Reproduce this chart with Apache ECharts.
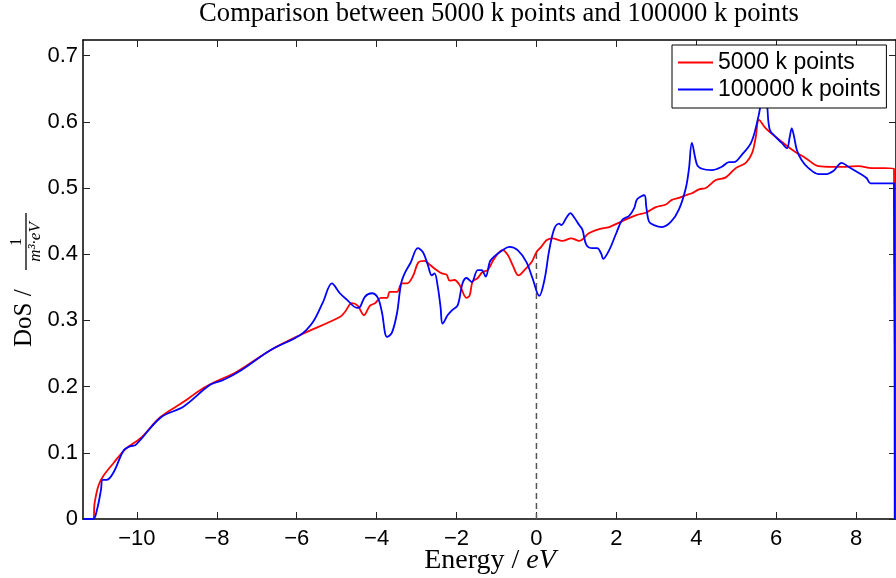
<!DOCTYPE html>
<html><head><meta charset="utf-8">
<script src="https://cdn.jsdelivr.net/npm/echarts@6/dist/echarts.min.js"></script>
<style>html,body{margin:0;padding:0;background:#fff}#c{width:896px;height:578px}</style>
</head><body><div id="c"></div>
<script>
const energyRed = [-11.35,-11.1,-11.06,-10.96,-10.83,-10.58,-10.28,-9.91,-9.41,-8.83,-8.41,-8.01,-7.51,-6.66,-5.91,-4.92,-4.79,-4.62,-4.47,-4.32,-4.17,-4.04,-3.89,-3.74,-3.67,-3.49,-3.37,-3.24,-3.09,-2.95,-2.80,-2.67,-2.50,-2.37,-2.25,-2.17,-2.05,-1.92,-1.75,-1.67,-1.60,-1.47,-1.35,-1.22,-1.05,-0.85,-0.72,-0.60,-0.45,-0.30,-0.12,0,0.12,0.25,0.40,0.65,0.87,1.07,1.32,1.57,1.82,2.15,2.50,2.75,2.99,3.24,3.39,3.57,3.74,3.89,4.07,4.24,4.49,4.74,4.99,5.24,5.40,5.49,5.57,5.74,5.99,6.24,6.49,6.74,7.06,7.39,7.74,8.06,8.39,8.73,8.95,8.97];
const dosRed = [0,0,0.024,0.051,0.066,0.085,0.106,0.122,0.154,0.177,0.195,0.208,0.222,0.255,0.278,0.305,0.313,0.326,0.322,0.308,0.322,0.326,0.334,0.334,0.343,0.343,0.356,0.356,0.367,0.388,0.390,0.384,0.376,0.371,0.369,0.360,0.361,0.353,0.334,0.338,0.358,0.364,0.373,0.376,0.394,0.406,0.399,0.384,0.368,0.376,0.388,0.403,0.411,0.421,0.424,0.420,0.424,0.420,0.432,0.438,0.441,0.450,0.459,0.463,0.471,0.475,0.482,0.485,0.489,0.492,0.498,0.500,0.512,0.516,0.530,0.538,0.553,0.577,0.603,0.590,0.577,0.565,0.554,0.545,0.533,0.532,0.532,0.533,0.530,0.530,0.529,0];
const energyBlue = [-11.35,-11.1,-11.0,-10.9,-10.86,-10.76,-10.58,-10.33,-10.16,-10.03,-9.41,-8.83,-8.16,-7.84,-7.41,-6.66,-5.91,-5.59,-5.34,-5.12,-4.92,-4.74,-4.49,-4.42,-4.29,-4.12,-3.97,-3.87,-3.74,-3.62,-3.49,-3.39,-3.29,-3.15,-2.97,-2.84,-2.72,-2.62,-2.55,-2.47,-2.40,-2.35,-2.22,-2.10,-1.97,-1.85,-1.75,-1.62,-1.47,-1.37,-1.27,-1.17,-1.10,-0.92,-0.67,-0.47,-0.25,-0.10,0.07,0.20,0.32,0.45,0.57,0.62,0.75,0.85,0.95,1.07,1.15,1.25,1.40,1.52,1.62,1.67,1.82,2.00,2.15,2.32,2.45,2.52,2.70,2.75,2.82,2.94,3.14,3.37,3.57,3.74,3.82,3.89,4.02,4.14,4.39,4.64,4.82,4.94,5.14,5.37,5.52,5.62,5.69,5.77,5.84,5.99,6.14,6.27,6.34,6.39,6.44,6.52,6.64,6.81,7.06,7.26,7.44,7.64,7.81,8.06,8.26,8.36,8.56,8.95,8.97];
const dosBlue = [0,0,0.014,0.044,0.059,0.059,0.071,0.104,0.110,0.112,0.153,0.170,0.203,0.210,0.224,0.255,0.278,0.298,0.328,0.356,0.341,0.331,0.319,0.320,0.336,0.341,0.334,0.313,0.275,0.281,0.311,0.355,0.372,0.387,0.409,0.403,0.384,0.368,0.371,0.351,0.320,0.295,0.308,0.316,0.323,0.356,0.364,0.358,0.376,0.376,0.366,0.388,0.394,0.403,0.411,0.406,0.388,0.364,0.337,0.361,0.406,0.439,0.446,0.444,0.455,0.462,0.455,0.444,0.437,0.414,0.409,0.409,0.401,0.393,0.406,0.432,0.452,0.458,0.470,0.483,0.489,0.471,0.449,0.444,0.441,0.449,0.468,0.500,0.530,0.568,0.535,0.529,0.527,0.532,0.539,0.539,0.550,0.568,0.598,0.628,0.660,0.628,0.588,0.577,0.568,0.560,0.577,0.590,0.580,0.557,0.542,0.530,0.521,0.521,0.526,0.538,0.532,0.523,0.515,0.507,0.507,0.507,0];
const fermiEnergy = [0, 0];
const fermiDos = [0, 0.403];
const xTicks = [-10,-8,-6,-4,-2,0,2,4,6,8];
const yTicks = [0,0.1,0.2,0.3,0.4,0.5,0.6,0.7];
const seriesNames = ['5000 k points', '100000 k points'];

const zip = (a, b) => a.map((v, i) => [v, b[i]]);
const chart = echarts.init(document.getElementById('c'), null, {renderer: 'canvas'});
const lineCol = '#000';
const fmtX = v => v < 0 ? '\u2212' + Math.abs(v) : String(v);
const fmtY = v => v === 0 ? '0' : v.toFixed(1);
function xAx(pos, showLabel) {
  return {
    type: 'value', position: pos, min: -11.35, max: 9,
    axisLine: {show: true, onZero: false, lineStyle: {color: lineCol, width: 1.5}},
    axisTick: {show: true, inside: true, length: 7, customValues: xTicks, lineStyle: {color: '#222', width: 1}},
    axisLabel: {show: showLabel, customValues: xTicks, margin: 9, fontSize: 22, fontFamily: 'Liberation Sans', color: '#000', formatter: fmtX},
    splitLine: {show: false}
  };
}
function yAx(pos, showLabel) {
  return {
    type: 'value', position: pos, min: 0, max: 0.7235,
    axisLine: {show: true, onZero: false, lineStyle: {color: lineCol, width: 1.5}},
    axisTick: {show: true, inside: true, length: 7, customValues: yTicks, lineStyle: {color: '#222', width: 1}},
    axisLabel: {show: showLabel, customValues: yTicks, margin: 5, fontSize: 22, fontFamily: 'Liberation Sans', color: '#000', formatter: fmtY},
    splitLine: {show: false}
  };
}
const option = {
  animation: false,
  backgroundColor: '#fff',
  grid: {left: 83, top: 40, width: 815, height: 479, containLabel: false},
  xAxis: [xAx('bottom', true), xAx('top', false)],
  yAxis: [yAx('left', true), yAx('right', false)],
  legend: {
    data: seriesNames, orient: 'vertical', left: 672, top: 45,
    padding: [6, 6, 7, 6], itemGap: 4, itemWidth: 35, itemHeight: 2, icon: 'rect',
    textStyle: {fontSize: 23, fontFamily: 'Liberation Sans', color: '#000', lineHeight: 22},
    borderColor: '#000', borderWidth: 1, backgroundColor: '#fff', borderRadius: 0, z: 10
  },
  series: [
    {name: seriesNames[0], type: 'line', data: zip(energyRed, dosRed), symbol: 'none', smooth: 0.35,
     lineStyle: {color: '#ff0000', width: 1.8}, itemStyle: {color: '#ff0000'}, z: 2},
    {name: seriesNames[1], type: 'line', data: zip(energyBlue, dosBlue), symbol: 'none', smooth: 0.35,
     lineStyle: {color: '#0000ff', width: 1.8}, itemStyle: {color: '#0000ff'}, z: 3},
    {name: 'fermi', type: 'line', data: zip(fermiEnergy, fermiDos), symbol: 'none', silent: true,
     lineStyle: {color: '#555', width: 1.5, type: [6, 4]}, z: 1}
  ],
  graphic: [
    {type: 'text', x: 499, y: 14, style: {text: 'Comparison between 5000 k points and 100000 k points', fontFamily: 'Liberation Serif', fontSize: 26.6, fill: '#000', textAlign: 'center', textVerticalAlign: 'middle'}},
    {type: 'text', x: 490, y: 561, style: {text: '{a|Energy / }{b|eV}', textAlign: 'center', textVerticalAlign: 'middle',
      rich: {a: {fontFamily: 'Liberation Serif', fontSize: 28, fill: '#000'}, b: {fontFamily: 'Liberation Serif', fontStyle: 'italic', fontSize: 28, fill: '#000'}}}},
    {type: 'group', x: 26, y: 280, rotation: Math.PI / 2, children: [
      {type: 'text', x: -67, y: -2, style: {text: 'DoS /', fontFamily: 'Liberation Serif', fontSize: 25, fill: '#000', textAlign: 'left', textVerticalAlign: 'middle'}},
      {type: 'text', x: 38, y: -9, style: {text: '1', fontFamily: 'Liberation Serif', fontSize: 16, fill: '#000', textAlign: 'center', textVerticalAlign: 'middle'}},
      {type: 'line', shape: {x1: 10, y1: 0, x2: 67, y2: 0}, style: {stroke: '#000', lineWidth: 1.3}},
      {type: 'text', x: 38, y: 10, style: {text: 'm\u00b3\u00b7eV', fontFamily: 'Liberation Serif', fontStyle: 'italic', fontSize: 17, fill: '#000', textAlign: 'center', textVerticalAlign: 'middle'}}
    ]}
  ]
};
chart.setOption(option);
</script>
</body></html>
